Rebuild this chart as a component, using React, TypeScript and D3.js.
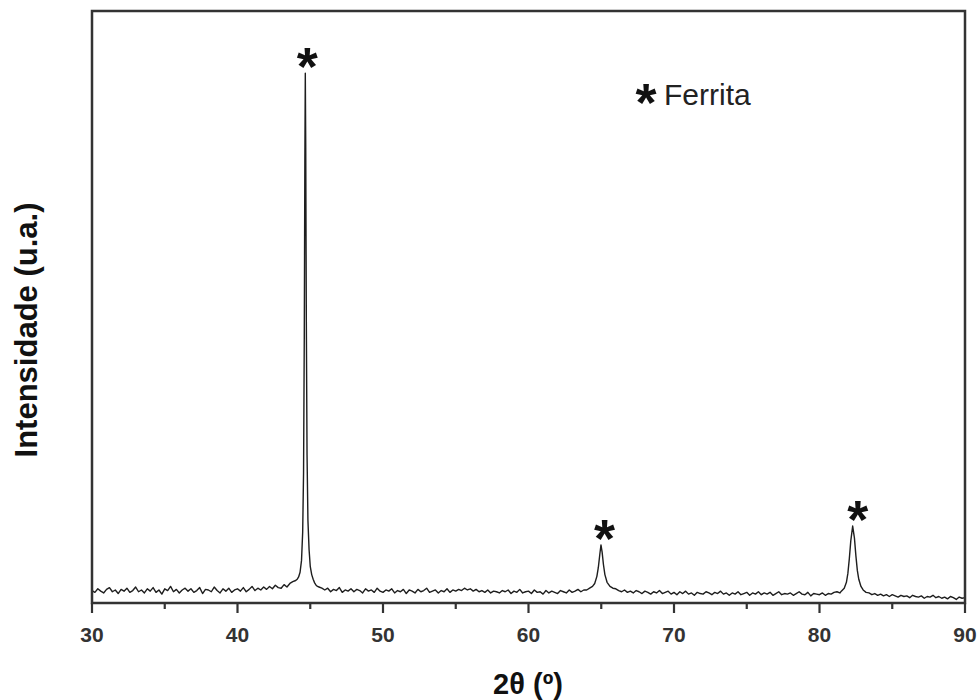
import React from 'react';
import * as d3 from 'd3';

// ---- data ----
const xDomain = [30, 90];
const yDomain = [0, 1000];
const xMajorTicks = [30, 40, 50, 60, 70, 80, 90];
const xMinorTicks = [35, 45, 55, 65, 75, 85];

// background diffractogram sampled every 0.2° from 30° to 90°
const bgStart = 30;
const bgStep = 0.2;
const background = [
  21, 18, 24, 20, 17, 23, 26, 19, 22, 16,
  23, 20, 25, 18, 21, 27, 19, 22, 17, 24,
  20, 26, 18, 22, 15, 24, 21, 28, 19, 23,
  17, 22, 25, 20, 24, 18, 21, 26, 16, 23,
  22, 19, 27, 21, 17, 24, 20, 25, 18, 22,
  24, 20, 26, 19, 23, 28, 21, 25, 22, 27,
  23, 28, 24, 30, 26, 25, 31, 27, 33, 36,
  38, 40, 44, 52, 72, 62, 48, 40, 27, 25,
  22, 25, 19, 23, 21, 26, 18, 22, 20, 24,
  19, 23, 21, 17, 24, 20, 22, 18, 25, 20,
  18, 22, 20, 24, 17, 21, 19, 23, 16, 22,
  20, 17, 23, 19, 21, 25, 18, 20, 22, 17,
  21, 19, 24, 18, 22, 20, 23, 21, 25, 22,
  24, 20, 23, 19, 21, 18, 22, 17, 20, 19,
  17, 21, 19, 22, 16, 20, 18, 23, 17, 19,
  20, 16, 22, 18, 19, 15, 21, 17, 20, 18,
  16, 21, 19, 17, 22, 18, 20, 23, 19, 22,
  22, 25, 30, 60, 98, 70, 35, 28, 25, 24,
  24, 21, 19, 22, 18, 20, 17, 21, 19, 16,
  20, 18, 15, 19, 17, 21, 16, 18, 20, 15,
  18, 14, 19, 16, 20, 15, 17, 13, 18, 16,
  15, 19, 17, 14, 18, 16, 20, 15, 17, 13,
  17, 15, 19, 14, 16, 18, 13, 17, 15, 19,
  14, 17, 15, 18, 13, 16, 19, 14, 16, 15,
  17, 13, 16, 19, 15, 14, 18, 12, 16, 15,
  14, 17, 13, 16, 15, 18, 19, 17, 20, 23,
  80, 120, 60, 30, 22, 20, 19, 17, 14, 16,
  13, 15, 12, 14, 11, 14, 12, 10, 13, 11,
  12, 9, 13, 11, 10, 12, 8, 11, 10, 13,
  9, 11, 8, 10, 7, 11, 9, 6, 10, 8,
  9,
];

// finely sampled peak profiles [2θ, intensity]
const peak110: [number, number][] = [
  [44.0, 38], [44.1, 40], [44.2, 44], [44.3, 52], [44.4, 72], [44.48, 120],
  [44.54, 220], [44.59, 450], [44.63, 750], [44.66, 895], [44.69, 770],
  [44.73, 480], [44.78, 250], [44.84, 140], [44.92, 90], [45.0, 62],
  [45.1, 48], [45.2, 40], [45.3, 34], [45.4, 30], [45.5, 28],
];
const peak200: [number, number][] = [
  [64.2, 25], [64.4, 28], [64.55, 33], [64.7, 45], [64.8, 60], [64.9, 82],
  [64.98, 98], [65.06, 86], [65.15, 65], [65.25, 48], [65.4, 35], [65.6, 28],
  [65.8, 25],
];
const peak211: [number, number][] = [
  [81.5, 20], [81.7, 25], [81.85, 35], [81.95, 50], [82.05, 75], [82.15, 105],
  [82.28, 130], [82.4, 110], [82.5, 80], [82.6, 55], [82.7, 40], [82.85, 28],
  [83.0, 22], [83.2, 18],
];
const peakTops: [number, number][] = [
  [44.66, 895],
  [64.98, 98],
  [82.28, 130],
];
const legendLabel = 'Ferrita';
const markerGlyph = '*';
const xTitle = '2θ (º)';
const yTitle = 'Intensidade (u.a.)';

export default function App() {
  const width = 980;
  const height = 700;
  const left = 92, right = 965, top = 11, bottom = 603;

  const x = d3.scaleLinear().domain(xDomain).range([left, right]);
  const y = d3.scaleLinear().domain(yDomain).range([bottom, top]);

  const peaks = [peak110, peak200, peak211];
  const windows = peaks.map((p) => [p[0][0], p[p.length - 1][0]]);
  const bgPoints: [number, number][] = background.map((v, i) => [bgStart + i * bgStep, v] as [number, number]);
  const points = bgPoints
    .filter(([a]) => !windows.some(([lo, hi]) => a >= lo - 1e-9 && a <= hi + 1e-9))
    .concat(...peaks)
    .sort((a, b) => a[0] - b[0]);

  const line = d3.line<[number, number]>().x((d) => x(d[0])).y((d) => y(d[1]));

  const font = '"Liberation Sans", Arial, Helvetica, sans-serif';
  const axisColor = '#333';
  const starSize = 54;
  const starBase = starSize * 0.58;

  return (
    <svg
      width={width}
      height={height}
      style={{ position: 'absolute', left: 0, top: 0, display: 'block', background: '#fff' }}
      fontFamily={font}
    >
      <rect x={0} y={0} width={width} height={height} fill="#fff" />
      {/* data */}
      <path d={line(points) || ''} fill="none" stroke="#1e1e1e" strokeWidth={1.4} strokeLinejoin="round" />
      {/* frame */}
      <rect x={left} y={top} width={right - left} height={bottom - top} fill="none" stroke={axisColor} strokeWidth={2.5} />
      {/* ticks */}
      {xMajorTicks.map((t) => (
        <line key={'M' + t} x1={x(t)} x2={x(t)} y1={bottom} y2={bottom + 10} stroke={axisColor} strokeWidth={2.2} />
      ))}
      {xMinorTicks.map((t) => (
        <line key={'m' + t} x1={x(t)} x2={x(t)} y1={bottom} y2={bottom + 6} stroke={axisColor} strokeWidth={2.2} />
      ))}
      {xMajorTicks.map((t) => (
        <text key={'L' + t} x={x(t)} y={642} textAnchor="middle" fontSize={21} fontWeight="bold" fill="#333">
          {t}
        </text>
      ))}
      {/* axis titles */}
      <text x={528} y={694} textAnchor="middle" fontSize={29} fontWeight="bold" fill="#111">
        {xTitle}
      </text>
      <text
        transform={`translate(37, 330) rotate(-90)`}
        textAnchor="middle"
        fontSize={31}
        fontWeight="bold"
        fill="#111"
      >
        {yTitle}
      </text>
      {/* peak markers */}
      {peakTops.map(([a, v], i) => (
        <text
          key={'s' + i}
          x={x(a) + 2 + i * 1.5}
          y={y(v) - 19 + starBase}
          textAnchor="middle"
          fontSize={starSize}
          fontWeight="bold"
          fill="#111"
        >
          {markerGlyph}
        </text>
      ))}
      {/* legend */}
      <text x={646} y={90 + starBase} textAnchor="middle" fontSize={starSize} fontWeight="bold" fill="#111">
        {markerGlyph}
      </text>
      <text x={664} y={105} fontSize={30} fill="#222">
        {legendLabel}
      </text>
    </svg>
  );
}
